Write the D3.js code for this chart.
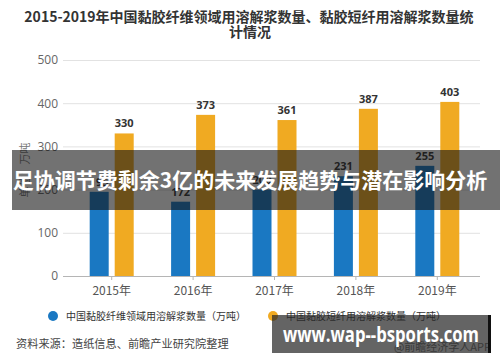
<!DOCTYPE html>
<html>
<head>
<meta charset="utf-8">
<script src="https://cdn.jsdelivr.net/npm/d3@7"></script>
<style>
  body { margin: 0; background: #fff; }
  svg { display: block; font-family: "Noto Sans CJK SC", "Noto Sans", sans-serif; }
</style>
</head>
<body>
<div id="chart"></div>
<script>
const width = 500;
const height = 362;

const years = ["2015年", "2016年", "2017年", "2018年", "2019年"];
const seriesNames = [
  "中国黏胶纤维领域用溶解浆数量（万吨）",
  "中国黏胶短纤用溶解浆数量（万吨）",
];
const fiberValues = [195, 172, 200, 231, 255];
const stapleValues = [330, 373, 361, 387, 403];
const yTicks = [0, 100, 200, 300, 400, 500];

const colors = ["#1a78c2", "#f0aa22"];

const svg = d3
  .select("#chart")
  .append("svg")
  .attr("width", width)
  .attr("height", height);

// title
svg
  .append("text")
  .attr("x", 249)
  .attr("y", 22)
  .attr("text-anchor", "middle")
  .attr("font-size", 14)
  .attr("font-weight", "bold")
  .attr("fill", "#333")
  .text("2015-2019年中国黏胶纤维领域用溶解浆数量、黏胶短纤用溶解浆数量统");
svg
  .append("text")
  .attr("x", 250)
  .attr("y", 37)
  .attr("text-anchor", "middle")
  .attr("font-size", 14)
  .attr("font-weight", "bold")
  .attr("fill", "#333")
  .text("计情况");

const xScale = d3.scaleBand().domain(years).range([71, 478]);
const subScale = d3
  .scaleBand()
  .domain([0, 1])
  .range([-22, 22])
  .paddingInner(0.24);
const yScale = d3.scaleLinear().domain([0, 500]).range([276, 60]);

// grid
svg
  .append("g")
  .selectAll("line")
  .data(yTicks)
  .join("line")
  .attr("x1", 63)
  .attr("x2", 480)
  .attr("y1", (d) => yScale(d) + 0.5)
  .attr("y2", (d) => yScale(d) + 0.5)
  .attr("stroke", (d) => (d === 0 ? "#b5b5b5" : "#e2e2e2"))
  .attr("stroke-width", 1);

// y axis labels
const yAxis = d3.axisLeft(yScale).tickValues(yTicks).tickSize(0).tickPadding(0);
svg
  .append("g")
  .attr("transform", "translate(58,0)")
  .call(yAxis)
  .call((g) => g.select(".domain").remove())
  .call((g) =>
    g
      .selectAll("text")
      .attr("font-size", 12)
      .attr("fill", "#666")
      .attr("font-family", "'Open Sans', 'Noto Sans', sans-serif")
  );

// x axis
const xAxis = d3.axisBottom(xScale).tickSize(4).tickPadding(6);
svg
  .append("g")
  .attr("transform", "translate(0,276)")
  .call(xAxis)
  .call((g) => g.select(".domain").remove())
  .call((g) => g.selectAll(".tick line").attr("stroke", "#b5b5b5"))
  .call((g) =>
    g
      .selectAll("text")
      .attr("font-size", 12)
      .attr("fill", "#555")
      .attr("font-family", "'Noto Sans CJK SC', sans-serif")
  );

// y axis title
svg
  .append("text")
  .attr("transform", "translate(29,170) rotate(-90)")
  .attr("text-anchor", "middle")
  .attr("font-size", 11)
  .attr("fill", "#777")
  .text("单位：万吨");

// bars
const seriesData = [fiberValues, stapleValues];
const barGroup = svg.append("g");
seriesData.forEach((vals, s) => {
  const g = barGroup.append("g").attr("fill", colors[s]);
  g.selectAll("rect")
    .data(vals)
    .join("rect")
    .attr("x", (d, i) => xScale(years[i]) + xScale.bandwidth() / 2 + subScale(s))
    .attr("y", (d) => yScale(d))
    .attr("width", subScale.bandwidth())
    .attr("height", (d) => yScale(0) - yScale(d));
  barGroup
    .append("g")
    .selectAll("text")
    .data(vals)
    .join("text")
    .attr(
      "x",
      (d, i) =>
        xScale(years[i]) + xScale.bandwidth() / 2 + subScale(s) + subScale.bandwidth() / 2
    )
    .attr("y", (d) => yScale(d) - 6)
    .attr("text-anchor", "middle")
    .attr("font-size", 11)
    .attr("font-weight", "bold")
    .attr("fill", "#333")
    .attr("font-family", "'Open Sans', sans-serif")
    .text((d) => d);
});

// legend
const legendX = [53, 273];
seriesNames.forEach((name, i) => {
  svg
    .append("circle")
    .attr("cx", legendX[i])
    .attr("cy", 316)
    .attr("r", 5)
    .attr("fill", colors[i]);
  svg
    .append("text")
    .attr("x", legendX[i] + 13)
    .attr("y", 320)
    .attr("font-size", 10)
    .attr("fill", "#333")
    .text(name);
});

// source
svg
  .append("text")
  .attr("x", 16)
  .attr("y", 348)
  .attr("font-size", 11.2)
  .attr("fill", "#444")
  .text("资料来源：造纸信息、前瞻产业研究院整理");
svg
  .append("text")
  .attr("x", 491)
  .attr("y", 351)
  .attr("text-anchor", "end")
  .attr("font-size", 11)
  .attr("fill", "#666")
  .text("@前瞻经济学人APP");

// overlay banner
svg
  .append("rect")
  .attr("x", 12)
  .attr("y", 150)
  .attr("width", 488)
  .attr("height", 60)
  .attr("fill", "rgba(20,20,20,0.6)");
svg
  .append("text")
  .attr("x", 250)
  .attr("y", 188)
  .attr("text-anchor", "middle")
  .attr("font-size", 21)
  .attr("font-weight", "bold")
  .attr("fill", "#fff")
  .text("足协调节费剩余3亿的未来发展趋势与潜在影响分析");

// bottom-right banner
svg
  .append("rect")
  .attr("x", 272)
  .attr("y", 315)
  .attr("width", 218)
  .attr("height", 38)
  .attr("fill", "rgba(40,40,40,0.72)");
svg
  .append("rect")
  .attr("x", 488)
  .attr("y", 315)
  .attr("width", 3)
  .attr("height", 38)
  .attr("fill", "#111");
svg
  .append("text")
  .attr("x", 381)
  .attr("y", 342)
  .attr("text-anchor", "middle")
  .attr("font-size", 21)
  .attr("font-weight", "bold")
  .attr("fill", "#fff")
  .attr("font-family", "'Open Sans', 'Liberation Sans', sans-serif")
  .attr("textLength", 196)
  .attr("lengthAdjust", "spacingAndGlyphs")
  .text("www.wap--bsports.com");
</script>
</body>
</html>
